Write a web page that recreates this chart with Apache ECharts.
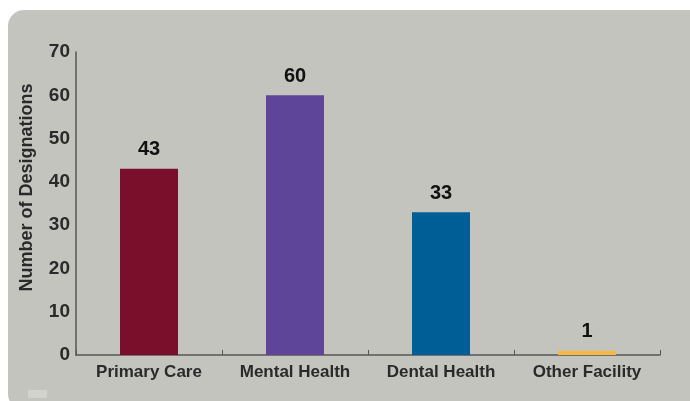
<!DOCTYPE html>
<html>
<head>
<meta charset="utf-8">
<script src="https://cdn.jsdelivr.net/npm/echarts@6/dist/echarts.min.js"></script>
<style>
  html, body { margin: 0; padding: 0; background: #ffffff; }
  #chart { width: 690px; height: 401px; }
</style>
</head>
<body>
<div id="chart"></div>
<script>
let categories = ['Primary Care', 'Mental Health', 'Dental Health', 'Other Facility'];
let designations = [43, 60, 33, 1];
let barColors = ['#7a0f2b', '#5e4599', '#005e96', '#f6b844'];
let yTicks = [0, 10, 20, 30, 40, 50, 60, 70];

let font = '"Liberation Sans", Arial, sans-serif';

let chart = echarts.init(document.getElementById('chart'));

let barData = [];
for(let i = 0; i < designations.length; i++){
    barData.push({ value: designations[i], itemStyle: { color: barColors[i] } });
}

let option = {
    backgroundColor: '#ffffff',
    animation: false,
    graphic: [
        {
            type: 'rect',
            z: -10,
            shape: { x: 8, y: 10, width: 700, height: 400, r: 16 },
            style: { fill: '#c4c4bf' }
        },
        {
            type: 'rect',
            z: -9,
            shape: { x: 28, y: 390, width: 19, height: 8 },
            style: { fill: '#d2d2ce' }
        }
    ],
    grid: { left: 76, top: 52, right: 30, bottom: 46 },
    xAxis: {
        type: 'category',
        data: categories,
        axisLine: { lineStyle: { color: '#555555', width: 1.5 } },
        axisTick: { show: true, inside: true, length: 5, lineStyle: { color: '#555555' } },
        axisLabel: {
            color: '#2a2a2a', fontFamily: font, fontWeight: 'bold', fontSize: 17, margin: 9
        }
    },
    yAxis: {
        type: 'value',
        min: 0,
        max: 70,
        interval: 10,
        name: 'Number of Designations',
        nameLocation: 'middle',
        nameGap: 40,
        nameTextStyle: {
            color: '#2a2a2a', fontFamily: font, fontWeight: 'bold', fontSize: 18,
            padding: [0, 0, 0, 32]
        },
        splitLine: { show: false },
        axisLine: { show: true, lineStyle: { color: '#555555', width: 1.5 } },
        axisTick: { show: false },
        axisLabel: {
            color: '#2a2a2a', fontFamily: font, fontWeight: 'bold', fontSize: 19, margin: 6,
            formatter: function(v){ return yTicks.indexOf(v) >= 0 ? String(v) : ''; }
        }
    },
    series: [
        {
            type: 'bar',
            data: barData,
            barWidth: 58,
            label: {
                show: true,
                position: 'top',
                distance: 9,
                color: '#111111',
                fontFamily: font,
                fontWeight: 'bold',
                fontSize: 20
            }
        }
    ]
};

chart.setOption(option);
</script>
</body>
</html>
